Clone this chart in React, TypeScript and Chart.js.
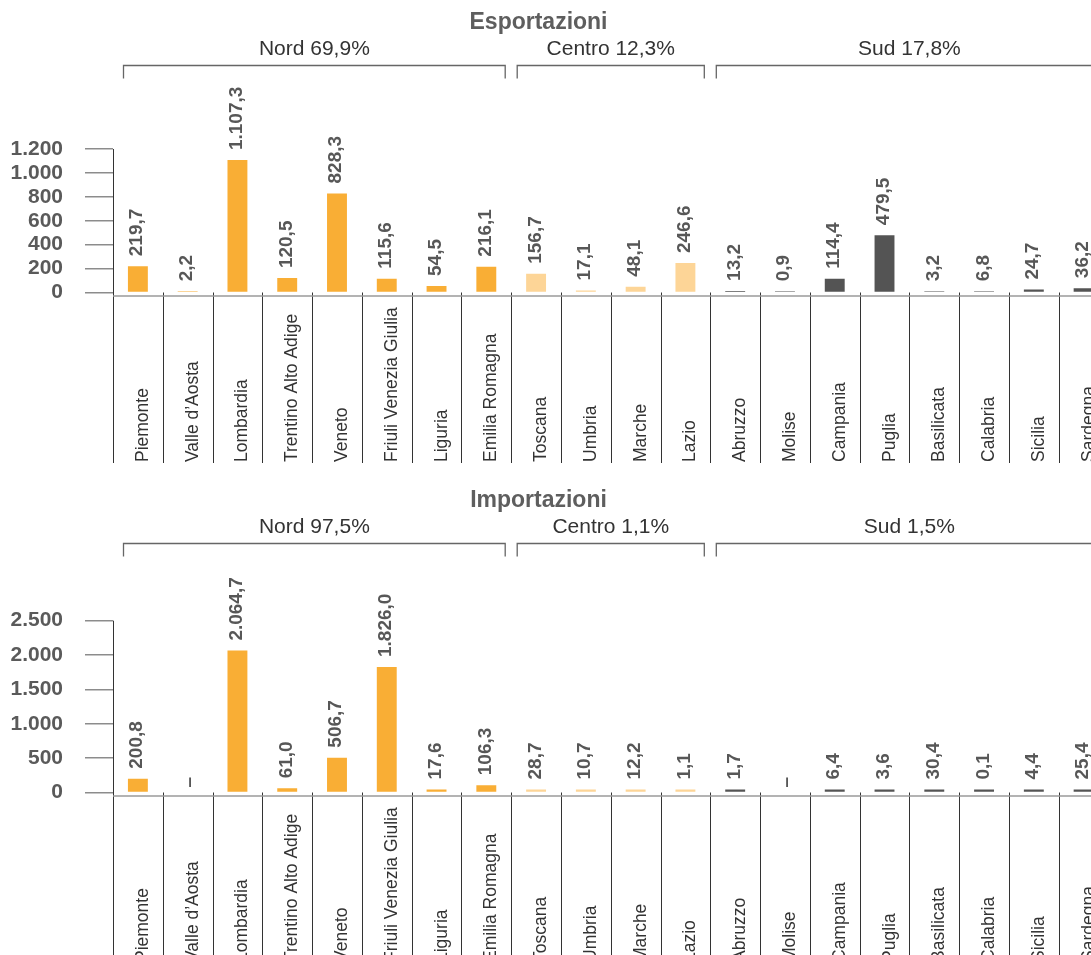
import React, { useEffect, useRef } from "react";
import { Chart, registerables } from "chart.js";

Chart.register(...registerables);

// ---------- DATA ----------
const regions = [
  "Piemonte",
  "Valle d’Aosta",
  "Lombardia",
  "Trentino Alto Adige",
  "Veneto",
  "Friuli Venezia Giulia",
  "Liguria",
  "Emilia Romagna",
  "Toscana",
  "Umbria",
  "Marche",
  "Lazio",
  "Abruzzo",
  "Molise",
  "Campania",
  "Puglia",
  "Basilicata",
  "Calabria",
  "Sicilia",
  "Sardegna",
];

const exportValues: (number | null)[] = [
  219.7, 2.2, 1107.3, 120.5, 828.3, 115.6, 54.5, 216.1, 156.7, 17.1, 48.1, 246.6, 13.2, 0.9, 114.4, 479.5,
  3.2, 6.8, 24.7, 36.2,
];

const importValues: (number | null)[] = [
  200.8, null, 2064.7, 61.0, 506.7, 1826.0, 17.6, 106.3, 28.7, 10.7, 12.2, 1.1, 1.7, null, 6.4, 3.6, 30.4,
  0.1, 4.4, 25.4,
];

const groupNames = ["Nord", "Centro", "Sud"];
const groupStart = [0, 8, 12];
const groupEnd = [7, 11, 19];
const exportShares = ["69,9%", "12,3%", "17,8%"];
const importShares = ["97,5%", "1,1%", "1,5%"];

const exportTicks = [0, 200, 400, 600, 800, 1000, 1200];
const importTicks = [0, 500, 1000, 1500, 2000, 2500];

const groupColors = ["#F9AE35", "#FDD597", "#545454"];

// ---------- HELPERS ----------
function fmtNum(v: number, decimals: number): string {
  const parts = v.toFixed(decimals).split(".");
  const intPart = parts[0].replace(/\B(?=(\d{3})+(?!\d))/g, ".");
  return parts[1] !== undefined ? intPart + "," + parts[1] : intPart;
}

function groupOf(i: number): number {
  for (let g = 0; g < groupStart.length; g++) {
    if (i >= groupStart[g] && i <= groupEnd[g]) return g;
  }
  return 0;
}

const FONT = "'Liberation Sans', Arial, Helvetica, sans-serif";
const CANVAS_W = 1120;

type PanelProps = {
  title: string;
  values: (number | null)[];
  shares: string[];
  ticks: number[];
  height: number;
  plotTop: number;
  plotBottom: number;
  minBar: number;
};

function Panel({ title, values, shares, ticks, height, plotTop, plotBottom, minBar }: PanelProps) {
  const ref = useRef<HTMLCanvasElement | null>(null);

  useEffect(() => {
    const canvas = ref.current;
    if (!canvas) return;
    const n = regions.length;

    const overlay = {
      id: "overlay",
      afterDatasetsDraw(chart: any) {
        const ctx: CanvasRenderingContext2D = chart.ctx;
        const area = chart.chartArea;
        const yScale = chart.scales.y;
        const cw = (area.right - area.left) / n;
        const edge = (i: number) => area.left + i * cw;
        const center = (i: number) => area.left + (i + 0.5) * cw;
        const axisY = area.bottom + 3.5;
        const sepBottom = area.bottom + 170.5;
        const meta = chart.getDatasetMeta(0);

        ctx.save();

        // separators (first one doubles as y axis line)
        ctx.strokeStyle = "#333333";
        ctx.lineWidth = 1;
        for (let i = 0; i <= n; i++) {
          const x = Math.round(edge(i)) + 0.5;
          ctx.beginPath();
          ctx.moveTo(x, i === 0 ? area.top : area.bottom);
          ctx.lineTo(x, sepBottom);
          ctx.stroke();
        }

        // horizontal category axis
        ctx.strokeStyle = "#9a9a9a";
        ctx.lineWidth = 1.5;
        ctx.beginPath();
        ctx.moveTo(area.left, axisY);
        ctx.lineTo(area.right, axisY);
        ctx.stroke();

        // category labels
        ctx.fillStyle = "#333333";
        ctx.font = `17.5px ${FONT}`;
        ctx.textAlign = "left";
        ctx.textBaseline = "alphabetic";
        for (let i = 0; i < n; i++) {
          ctx.save();
          ctx.translate(center(i) + 10, sepBottom - 1);
          ctx.rotate(-Math.PI / 2);
          ctx.fillText(regions[i], 0, 0);
          ctx.restore();
        }

        // value labels
        ctx.fillStyle = "#575757";
        ctx.font = `bold 19px ${FONT}`;
        for (let i = 0; i < n; i++) {
          const v = values[i];
          const isNull = v === null || v === undefined;
          const el = meta.data[i];
          const topY = isNull || !el || !isFinite(el.y) ? yScale.getPixelForValue(0) : el.y;
          const text = isNull ? "–" : fmtNum(v as number, 1);
          ctx.save();
          ctx.translate(center(i) + (isNull ? 7.5 : 4.5), topY - (isNull ? 5 : 10));
          ctx.rotate(-Math.PI / 2);
          ctx.fillText(text, 0, 0);
          ctx.restore();
        }

        // title
        ctx.fillStyle = "#5e5e5e";
        ctx.font = `bold 23px ${FONT}`;
        ctx.textAlign = "center";
        ctx.textBaseline = "middle";
        ctx.fillText(title, 538.5, 23);

        // group brackets
        ctx.strokeStyle = "#666666";
        ctx.lineWidth = 1.3;
        ctx.fillStyle = "#333333";
        ctx.font = `21px ${FONT}`;
        for (let g = 0; g < groupNames.length; g++) {
          const left = edge(groupStart[g]) + (g === 0 ? 10.5 : 6);
          const right = edge(groupEnd[g] + 1) - 6;
          ctx.beginPath();
          ctx.moveTo(left, 78.5);
          ctx.lineTo(left, 65.5);
          ctx.lineTo(right, 65.5);
          ctx.lineTo(right, 78.5);
          ctx.stroke();
          ctx.fillText(`${groupNames[g]} ${shares[g]}`, (left + right) / 2, 49);
        }

        ctx.restore();
      },
    };

    const chart = new Chart(canvas, {
      type: "bar",
      data: {
        labels: regions,
        datasets: [
          {
            data: values as any,
            backgroundColor: regions.map((_, i) => groupColors[groupOf(i)]),
            borderWidth: 0,
            barPercentage: 0.4,
            categoryPercentage: 1.0,
            minBarLength: minBar,
          },
        ],
      },
      options: {
        responsive: false,
        animation: false,
        devicePixelRatio: 1,
        layout: {
          padding: {
            top: plotTop,
            bottom: height - plotBottom,
            left: 0,
            right: CANVAS_W - 1108.5,
          },
        },
        plugins: {
          legend: { display: false },
          tooltip: { enabled: false },
          title: { display: false },
        },
        scales: {
          x: { display: false },
          y: {
            min: ticks[0],
            max: ticks[ticks.length - 1],
            afterFit: (scale: any) => {
              scale.width = 113;
            },
            afterBuildTicks: (scale: any) => {
              scale.ticks = ticks.map((t) => ({ value: t }));
            },
            border: { display: false },
            grid: {
              drawOnChartArea: false,
              drawTicks: true,
              tickLength: 28,
              color: "#8c8c8c",
              lineWidth: 1.5,
            },
            ticks: {
              autoSkip: false,
              padding: 22,
              color: "#5a5a5a",
              font: { family: FONT, size: 21, weight: "bold" },
              callback: (v: any) => fmtNum(Number(v), 0),
            },
          },
        },
      },
      plugins: [overlay],
    } as any);

    return () => chart.destroy();
  }, []);

  return (
    <canvas
      ref={ref}
      width={CANVAS_W}
      height={height}
      style={{ display: "block", width: CANVAS_W, height }}
    />
  );
}

export default function App() {
  return (
    <div
      style={{
        position: "absolute",
        left: 0,
        top: 0,
        width: 1091,
        height: 955,
        overflow: "hidden",
        background: "#ffffff",
      }}
    >
      <Panel
        title="Esportazioni"
        values={exportValues}
        shares={exportShares}
        ticks={exportTicks}
        height={478}
        plotTop={149}
        plotBottom={292.5}
        minBar={1.2}
      />
      <Panel
        title="Importazioni"
        values={importValues}
        shares={importShares}
        ticks={importTicks}
        height={477}
        plotTop={142.7}
        plotBottom={314.5}
        minBar={3}
      />
    </div>
  );
}
